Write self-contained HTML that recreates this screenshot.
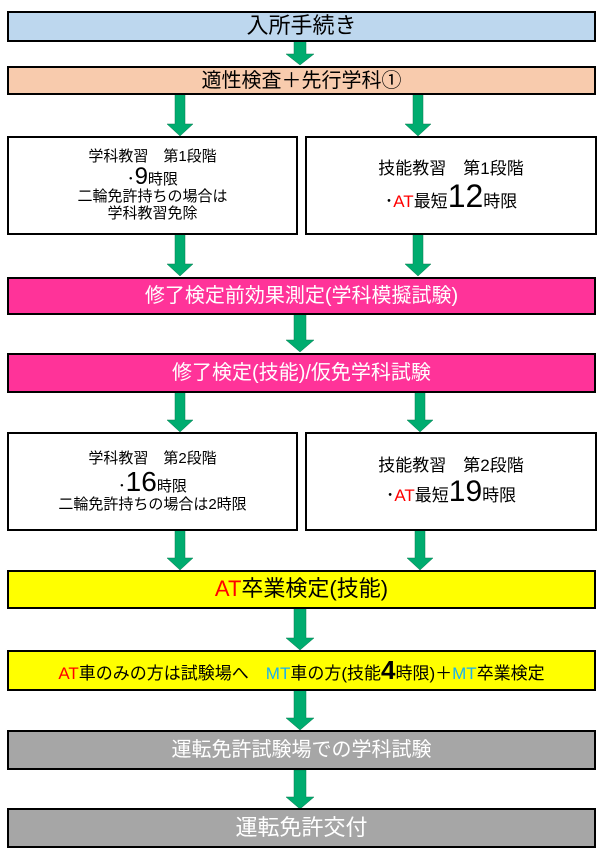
<!DOCTYPE html>
<html><head><meta charset="utf-8"><style>
body{margin:0;width:605px;height:861px;background:#fff;position:relative;overflow:hidden;font-family:"Liberation Sans","Noto Sans CJK JP",sans-serif;}
.b{position:absolute;box-sizing:border-box;border:2px solid #000;display:flex;flex-direction:column;align-items:center;justify-content:center;text-align:center;color:#000;line-height:1.1;font-weight:normal;}
.r{color:#f00}.c{color:#1ab0f0}
svg{position:absolute;left:0;top:0}
</style></head><body>
<svg width="605" height="861">
<g fill="#00ac6f" stroke="#0a7a50" stroke-width="0.5">
<path d="M294 41h12v13h8l-14 11l-14-11h8z"/>
<path d="M175 94h10v30h8l-13 12l-13-12h8z"/>
<path d="M413 94h10v30h8l-13 12l-13-12h8z"/>
<path d="M175 234h10v30h8l-13 12l-13-12h8z"/>
<path d="M413 234h10v30h8l-13 12l-13-12h8z"/>
<path d="M294 314h12v26h8l-14 12l-14-12h8z"/>
<path d="M175 392h10v28h8l-13 12l-13-12h8z"/>
<path d="M415 392h10v28h8l-13 12l-13-12h8z"/>
<path d="M175 530h10v28h8l-13 12l-13-12h8z"/>
<path d="M415 530h10v28h8l-13 12l-13-12h8z"/>
<path d="M294 608h12v30h8l-14 12l-14-12h8z"/>
<path d="M294 690h12v28h8l-14 12l-14-12h8z"/>
<path d="M294 770h12v27h8l-14 12l-14-12h8z"/>
</g></svg>
<div class="b" style="left:7px;top:11px;width:589px;height:31px;background:#bdd7ee;font-size:22px">入所手続き</div>
<div class="b" style="left:7px;top:66px;width:589px;height:29px;background:#f8cbad;font-size:20px">適性検査＋先行学科①</div>
<div class="b" style="left:7px;top:136px;width:291px;height:99px;font-size:15px;line-height:1.1">
<div>学科教習　第1段階</div><div>･<span style="font-size:24px;line-height:1">9</span>時限</div><div>二輪免許持ちの場合は</div><div>学科教習免除</div></div>
<div class="b" style="left:305px;top:136px;width:292px;height:99px;font-size:17px;line-height:1.2">
<div>技能教習　第1段階</div><div>･<span class="r">AT</span>最短<span style="font-size:32px;line-height:1">12</span>時限</div></div>
<div class="b" style="left:7px;top:277px;width:589px;height:38px;background:#ff3399;color:#fff;font-size:20px">修了検定前効果測定(学科模擬試験)</div>
<div class="b" style="left:7px;top:353px;width:589px;height:40px;background:#ff3399;color:#fff;font-size:20px">修了検定(技能)/仮免学科試験</div>
<div class="b" style="left:7px;top:432px;width:291px;height:99px;font-size:15px;line-height:1.15">
<div>学科教習　第2段階</div><div>･<span style="font-size:28px;line-height:1">16</span>時限</div><div>二輪免許持ちの場合は2時限</div></div>
<div class="b" style="left:305px;top:432px;width:292px;height:99px;font-size:17px;line-height:1.2">
<div>技能教習　第2段階</div><div>･<span class="r">AT</span>最短<span style="font-size:30px;line-height:1">19</span>時限</div></div>
<div class="b" style="left:7px;top:570px;width:589px;height:39px;background:#ffff00;font-size:22px"><div><span class="r">AT</span>卒業検定(技能)</div></div>
<div class="b" style="left:7px;top:650px;width:589px;height:41px;background:#ffff00;font-size:17px"><div><span class="r">AT</span>車のみの方は試験場へ　<span class="c">MT</span>車の方(技能<span style="font-size:26px;font-weight:bold;line-height:1">4</span>時限)＋<span class="c">MT</span>卒業検定</div></div>
<div class="b" style="left:7px;top:730px;width:589px;height:40px;background:#a6a6a6;color:#fff;font-size:20px">運転免許試験場での学科試験</div>
<div class="b" style="left:7px;top:808px;width:589px;height:40px;background:#a6a6a6;color:#fff;font-size:22px">運転免許交付</div>
</body></html>
